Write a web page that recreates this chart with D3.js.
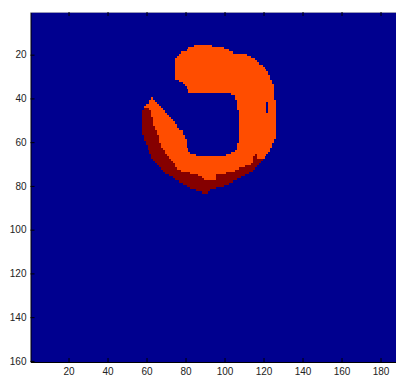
<!DOCTYPE html>
<html>
<head>
<meta charset="utf-8">
<script src="https://cdn.jsdelivr.net/npm/d3@7"></script>
<style>
  html, body { margin: 0; padding: 0; background: #fff; overflow: hidden; }
  svg { display: block; }
  .tick text { font-family: "Liberation Sans", Arial, sans-serif; font-size: 10px; fill: #222; }
</style>
</head>
<body>
<svg id="chart" width="396" height="376"></svg>
<script>
// Image grid size (rows x columns) and axis ticks
const nRows = 160;
const nCols = 192;
const xTicks = [20, 40, 60, 80, 100, 120, 140, 160, 180];
const yTicks = [20, 40, 60, 80, 100, 120, 140, 160];

// Pixel classes: 0 background, 1 main region, 2 outer rim
const levels = [0, 1, 2];
const levelColors = ["#00008f", "#ff4d00", "#850000"];

// Non-background pixels, row by row: [firstCol, lastCol, level]
const rowIds = [16,17,18,19,20,21,22,23,24,25,26,27,28,29,30,31,32,33,34,35,36,37,38,39,40,
  41,42,43,44,45,46,47,48,49,50,51,52,53,54,55,56,57,58,59,60,61,62,63,64,65,66,67,68,69,70,
  71,72,73,74,75,76,77,78,79,80,81,82,83];
const rowRuns = [
  [[85,93,1]],
  [[82,99,1]],
  [[81,102,1]],
  [[78,104,1]],
  [[77,111,1]],
  [[76,113,1]],
  [[75,115,1]],
  [[75,116,1]],
  [[75,117,1]],
  [[75,119,1]],
  [[75,120,1]],
  [[75,121,1]],
  [[75,122,1]],
  [[75,122,1]],
  [[75,123,1]],
  [[75,123,1]],
  [[77,124,1]],
  [[79,124,1]],
  [[80,125,1]],
  [[81,125,1]],
  [[82,125,1]],
  [[82,125,1]],
  [[104,125,1]],
  [[106,125,1]],
  [[63,63,1],[106,125,1]],
  [[62,64,1],[107,126,1]],
  [[62,65,1],[107,121,1],[123,126,1]],
  [[60,66,1],[107,121,1],[123,126,1]],
  [[59,67,1],[107,121,1],[123,126,1]],
  [[59,61,2],[62,68,1],[107,121,1],[123,126,1]],
  [[58,62,2],[63,69,1],[108,121,1],[123,126,1]],
  [[58,62,2],[63,70,1],[108,126,1]],
  [[58,62,2],[63,71,1],[108,126,1]],
  [[58,63,2],[64,72,1],[108,126,1]],
  [[58,63,2],[64,73,1],[108,126,1]],
  [[58,63,2],[64,74,1],[108,126,1]],
  [[58,63,2],[64,75,1],[108,126,1]],
  [[58,64,2],[65,75,1],[108,126,1]],
  [[58,64,2],[65,76,1],[108,126,1]],
  [[58,65,2],[66,78,1],[108,126,1]],
  [[58,65,2],[66,78,1],[108,126,1]],
  [[59,66,2],[67,79,1],[108,126,1]],
  [[59,66,2],[67,79,1],[108,126,1]],
  [[59,66,2],[67,80,1],[108,125,1]],
  [[60,66,2],[67,80,1],[108,125,1]],
  [[60,67,2],[68,80,1],[107,124,1]],
  [[61,67,2],[68,80,1],[107,124,1]],
  [[61,68,2],[69,81,1],[107,123,1]],
  [[62,69,2],[70,81,1],[106,123,1]],
  [[62,69,2],[70,82,1],[104,122,1]],
  [[63,70,2],[71,85,1],[101,115,1],[116,116,2],[117,121,1]],
  [[63,71,2],[72,114,1],[115,116,2],[117,120,1]],
  [[64,72,2],[73,114,1],[115,119,2]],
  [[65,73,2],[74,114,1],[115,118,2]],
  [[66,74,2],[75,113,1],[114,117,2]],
  [[67,74,2],[75,110,1],[111,116,2]],
  [[68,75,2],[76,107,1],[108,115,2]],
  [[69,77,2],[78,105,1],[106,114,2]],
  [[70,82,2],[83,100,1],[101,112,2]],
  [[72,86,2],[87,95,1],[96,110,2]],
  [[74,88,2],[89,95,1],[96,108,2]],
  [[75,89,2],[90,95,1],[96,106,2]],
  [[77,104,2]],
  [[79,102,2]],
  [[81,99,2]],
  [[83,95,2]],
  [[86,92,2]],
  [[89,91,2]]
];

const svg = d3.select("#chart");
const plotLeft = 30.5, plotTop = 12, plotBottom = 362, colPx = 1.95;

const x = d3.scaleLinear().domain([0.5, nCols + 0.5]).range([plotLeft, plotLeft + nCols * colPx]);
const y = d3.scaleLinear().domain([0.5, nRows + 0.5]).range([plotTop, plotBottom]);
const color = d3.scaleOrdinal().domain(levels).range(levelColors);

const plot = svg.append("g").attr("shape-rendering", "crispEdges");

// background level fills the whole image
plot.append("rect")
  .attr("x", x(0.5)).attr("y", y(0.5))
  .attr("width", x(nCols + 0.5) - x(0.5))
  .attr("height", y(nRows + 0.5) - y(0.5))
  .attr("fill", color(0));

const cells = [];
rowIds.forEach((r, i) => rowRuns[i].forEach(([c0, c1, v]) => cells.push({ r, c0, c1, v })));

plot.selectAll("rect.cell").data(cells).join("rect")
  .attr("class", "cell")
  .attr("x", d => x(d.c0 - 0.5))
  .attr("width", d => x(d.c1 + 0.5) - x(d.c0 - 0.5))
  .attr("y", d => y(d.r - 0.5))
  .attr("height", d => y(d.r + 0.5) - y(d.r - 0.5))
  .attr("fill", d => color(d.v));

// axes with inward ticks
const xAxis = svg.append("g")
  .attr("transform", `translate(0,${plotBottom})`)
  .call(d3.axisBottom(x).tickValues(xTicks).tickSizeInner(-4).tickSizeOuter(0).tickPadding(6));
const yAxis = svg.append("g")
  .attr("transform", `translate(${plotLeft},0)`)
  .call(d3.axisLeft(y).tickValues(yTicks).tickSizeInner(-4).tickSizeOuter(0).tickPadding(4));
const topAxis = svg.append("g")
  .attr("transform", `translate(0,${plotTop})`)
  .call(d3.axisTop(x).tickValues(xTicks).tickSizeInner(-4).tickSizeOuter(0).tickFormat(""));

[xAxis, yAxis].forEach(g => {
  g.select(".domain").attr("stroke", "#000");
  g.selectAll(".tick line").attr("stroke", "#000");
});
topAxis.select(".domain").attr("stroke", "#9a9ab8");
topAxis.selectAll(".tick line").attr("stroke", "#000");
</script>
</body>
</html>
